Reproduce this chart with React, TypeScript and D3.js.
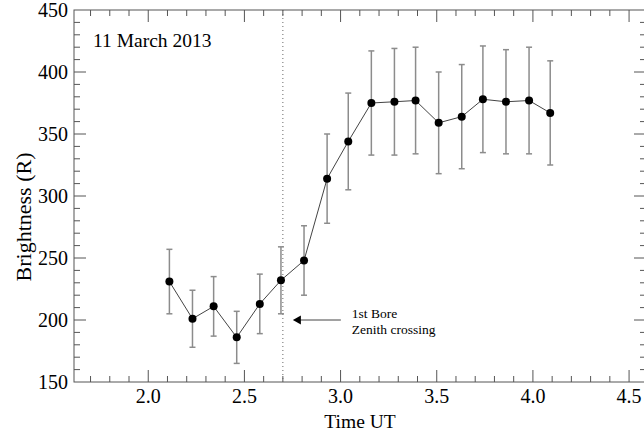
import React, { useEffect, useRef } from "react";
import * as d3 from "d3";

const times = [2.11, 2.23, 2.34, 2.46, 2.58, 2.69, 2.81, 2.93, 3.04, 3.16, 3.28, 3.39, 3.51, 3.63, 3.74, 3.86, 3.98, 4.09];
const brightness = [231, 201, 211, 186, 213, 232, 248, 314, 344, 375, 376, 377, 359, 364, 378, 376, 377, 367];
const errors = [26, 23, 24, 21, 24, 27, 28, 36, 39, 42, 43, 43, 41, 42, 43, 42, 43, 42];
const xTicks = [2.0, 2.5, 3.0, 3.5, 4.0, 4.5];
const yTicks = [150, 200, 250, 300, 350, 400, 450];
const boreTime = 2.7;
const arrowLevel = 200;

const W = 644;
const H = 433;
const font = "Liberation Serif, Times New Roman, serif";

const App = () => {
  const ref = useRef<SVGSVGElement>(null);

  useEffect(() => {
    const svg = d3.select(ref.current);
    svg.selectAll("*").remove();

    const x = d3.scaleLinear().domain([1.614, 4.588]).range([74, 646]);
    const y = d3.scaleLinear().domain([150, 450]).range([382, 10]);
    const [x0, x1] = x.range();
    const [y0, y1] = y.range();
    const axisColor = "#555";

    const pts = times.map((t, i) => ({ t, v: brightness[i], e: errors[i] }));

    // frame
    svg
      .append("rect")
      .attr("x", x0)
      .attr("y", y1)
      .attr("width", x1 - x0)
      .attr("height", y0 - y1)
      .attr("fill", "none")
      .attr("stroke", axisColor)
      .attr("stroke-width", 1);

    // minor ticks every 0.1 on x, every 10 on y; mirrored on top/right
    const ticks = svg.append("g").attr("stroke", axisColor).attr("stroke-width", 1);
    d3.range(17, 46).map((d) => d / 10).forEach((d) => {
      const major = xTicks.some((m) => Math.abs(m - d) < 1e-6);
      const len = major ? 12 : 6;
      ticks.append("line").attr("x1", x(d)).attr("x2", x(d)).attr("y1", y0).attr("y2", y0 - len);
      ticks.append("line").attr("x1", x(d)).attr("x2", x(d)).attr("y1", y1).attr("y2", y1 + len);
    });
    d3.range(160, 450, 10).forEach((d) => {
      const len = d % 50 === 0 ? 12 : 6;
      ticks.append("line").attr("x1", x0).attr("x2", x0 + len).attr("y1", y(d)).attr("y2", y(d));
      ticks.append("line").attr("x1", x1).attr("x2", x1 - len).attr("y1", y(d)).attr("y2", y(d));
    });

    svg
      .append("g")
      .selectAll("text")
      .data(xTicks)
      .join("text")
      .attr("x", (d) => x(d))
      .attr("y", 403)
      .attr("text-anchor", "middle")
      .attr("font-family", font)
      .attr("font-size", 20)
      .text((d) => d.toFixed(1));

    svg
      .append("g")
      .selectAll("text")
      .data(yTicks)
      .join("text")
      .attr("x", 68)
      .attr("y", (d) => y(d) + 7)
      .attr("text-anchor", "end")
      .attr("font-family", font)
      .attr("font-size", 20)
      .text((d) => d);

    svg
      .append("text")
      .attr("x", 360)
      .attr("y", 428)
      .attr("text-anchor", "middle")
      .attr("font-family", font)
      .attr("font-size", 19.5)
      .text("Time UT");

    svg
      .append("text")
      .attr("transform", "translate(31, 217) rotate(-90)")
      .attr("text-anchor", "middle")
      .attr("font-family", font)
      .attr("font-size", 22)
      .text("Brightness (R)");

    svg
      .append("text")
      .attr("x", 93)
      .attr("y", 47)
      .attr("font-family", font)
      .attr("font-size", 19.5)
      .text("11 March 2013");

    // dotted bore line
    svg
      .append("line")
      .attr("x1", x(boreTime))
      .attr("x2", x(boreTime))
      .attr("y1", y1)
      .attr("y2", y0)
      .attr("stroke", "#666")
      .attr("stroke-width", 1)
      .attr("stroke-dasharray", "1,3");

    // error bars
    const eb = svg.append("g").attr("stroke", "#8c8c8c").attr("stroke-width", 1.5);
    pts.forEach((p) => {
      const cx = x(p.t);
      eb.append("line").attr("x1", cx).attr("x2", cx).attr("y1", y(p.v - p.e)).attr("y2", y(p.v + p.e));
      eb.append("line").attr("x1", cx - 3).attr("x2", cx + 3).attr("y1", y(p.v - p.e)).attr("y2", y(p.v - p.e));
      eb.append("line").attr("x1", cx - 3).attr("x2", cx + 3).attr("y1", y(p.v + p.e)).attr("y2", y(p.v + p.e));
    });

    const line = d3
      .line<{ t: number; v: number }>()
      .x((d) => x(d.t))
      .y((d) => y(d.v));
    svg
      .append("path")
      .datum(pts)
      .attr("d", line)
      .attr("fill", "none")
      .attr("stroke", "#444")
      .attr("stroke-width", 1);

    svg
      .append("g")
      .selectAll("circle")
      .data(pts)
      .join("circle")
      .attr("cx", (d) => x(d.t))
      .attr("cy", (d) => y(d.v))
      .attr("r", 4)
      .attr("fill", "#000");

    // arrow annotation
    const ay = y(arrowLevel);
    const tip = x(boreTime) + 10;
    svg
      .append("line")
      .attr("x1", tip + 6)
      .attr("x2", tip + 48)
      .attr("y1", ay)
      .attr("y2", ay)
      .attr("stroke", "#444")
      .attr("stroke-width", 1);
    svg
      .append("path")
      .attr("d", `M${tip},${ay} L${tip + 8},${ay - 4.5} L${tip + 8},${ay + 4.5} Z`)
      .attr("fill", "#000");

    svg
      .append("text")
      .attr("x", tip + 59)
      .attr("y", ay - 2)
      .attr("font-family", font)
      .attr("font-size", 13.5)
      .text("1st Bore");
    svg
      .append("text")
      .attr("x", tip + 59)
      .attr("y", ay + 13.5)
      .attr("font-family", font)
      .attr("font-size", 13.5)
      .text("Zenith crossing");
  }, []);

  return (
    <svg
      ref={ref}
      width={W}
      height={H}
      style={{ position: "absolute", left: 0, top: 0, background: "#fff" }}
    />
  );
};

export default App;
